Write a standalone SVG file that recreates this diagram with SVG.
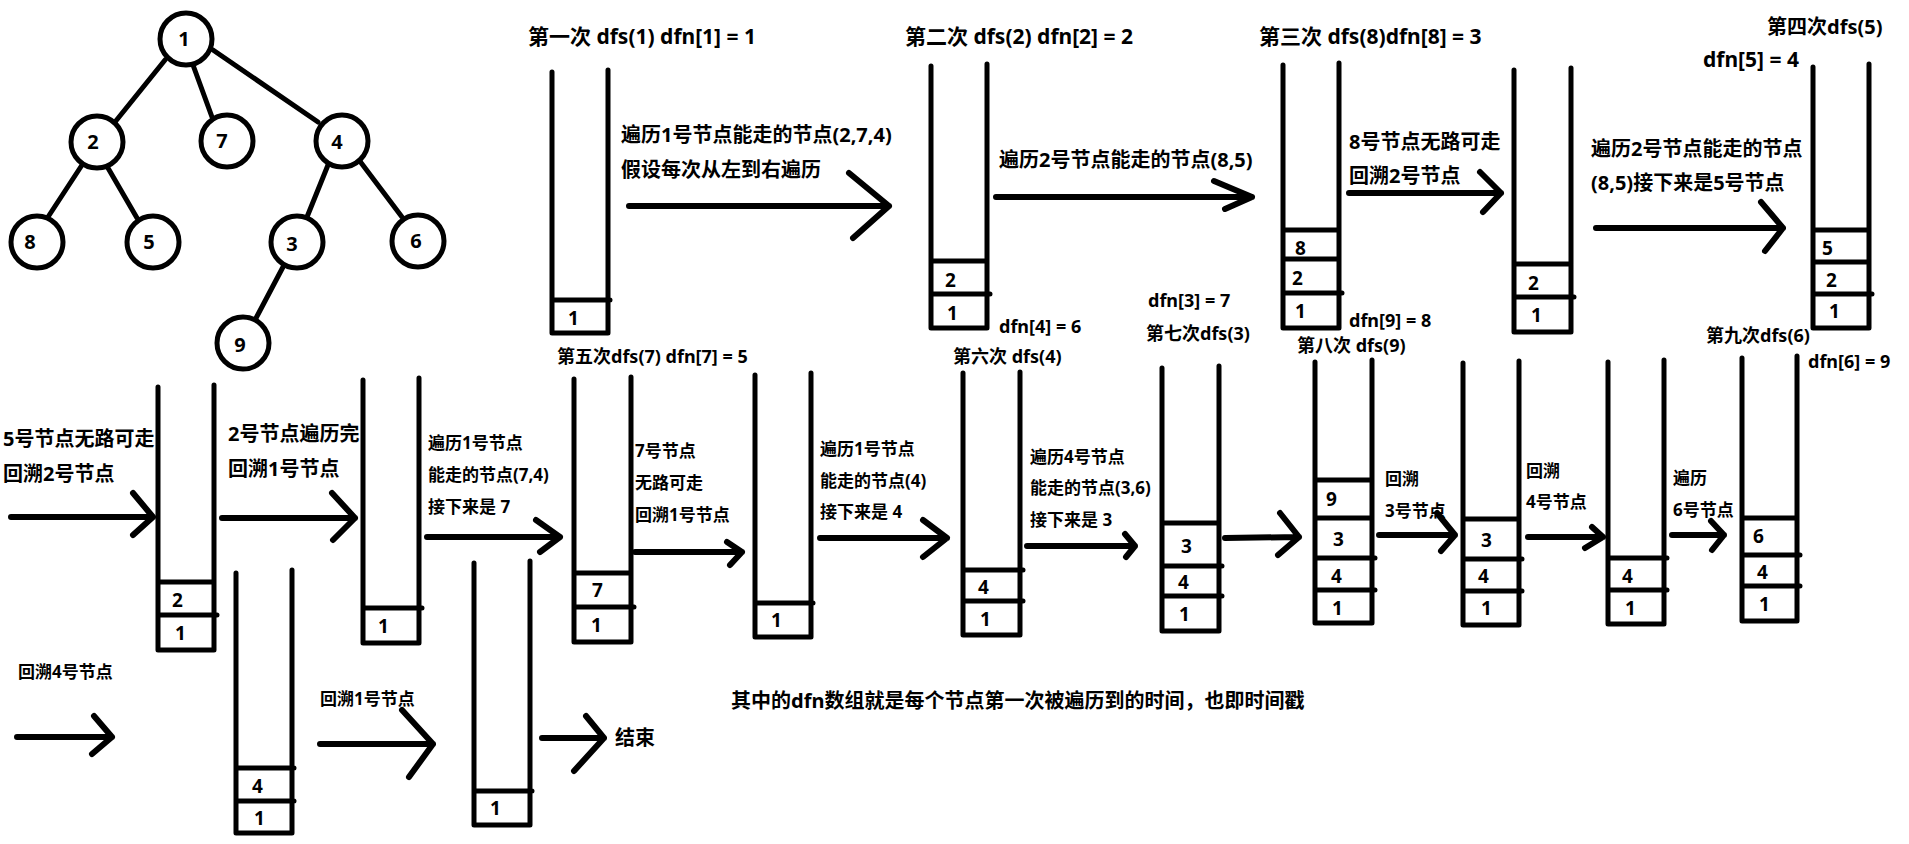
<svg xmlns="http://www.w3.org/2000/svg" width="1909" height="844" viewBox="0 0 1909 844">
<style>
.bg{fill:#fff}
.ln{fill:none;stroke:#000;stroke-width:5;stroke-linecap:round;stroke-linejoin:round}
.ar{fill:none;stroke:#000;stroke-width:6;stroke-linecap:round;stroke-linejoin:round}
.nd{fill:#fff;stroke:#000;stroke-width:5}
text{font-family:"Noto Sans","Noto Sans CJK SC",sans-serif;font-weight:bold;fill:#000}
.t21{font-size:21px}
.t20{font-size:20px}
.t18{font-size:18px}
.t17{font-size:17px}
.nl{font-size:20px;text-anchor:middle}
.sl{font-size:19px}
</style>
<rect class="bg" x="0" y="0" width="1909" height="844"/>

<!-- tree edges -->
<g id="tree-edges" class="ln">
<path d="M165 60L115 122M193 65L212 117M213 50L318 122M82 165L48 217M108 168L137 218M328 165L307 217M359 160L402 217M283 267L255 320"/>
</g>
<g id="n1"><circle class="nd" cx="186" cy="39" r="26"/><text class="nl" x="184" y="46">1</text></g>
<g id="n2"><circle class="nd" cx="97" cy="142" r="26"/><text class="nl" x="93" y="149">2</text></g>
<g id="n7"><circle class="nd" cx="227" cy="141" r="26"/><text class="nl" x="222" y="148">7</text></g>
<g id="n4"><circle class="nd" cx="342" cy="141" r="26"/><text class="nl" x="337" y="149">4</text></g>
<g id="n8"><circle class="nd" cx="37" cy="242" r="26"/><text class="nl" x="30" y="249">8</text></g>
<g id="n5"><circle class="nd" cx="153" cy="242" r="26"/><text class="nl" x="149" y="249">5</text></g>
<g id="n3"><circle class="nd" cx="297" cy="242" r="26"/><text class="nl" x="292" y="251">3</text></g>
<g id="n6"><circle class="nd" cx="418" cy="241" r="26"/><text class="nl" x="416" y="248">6</text></g>
<g id="n9"><circle class="nd" cx="243" cy="343" r="26"/><text class="nl" x="240" y="352">9</text></g>

<!-- stacks row 1 -->
<g id="s1"><path class="ln" d="M552 72V333H608V70M552 300H610"/><text class="sl" x="568" y="325">1</text></g>
<g id="s2"><path class="ln" d="M931 66V328H987V64M931 261H987M931 294H990"/><text class="sl" x="945" y="287">2</text><text class="sl" x="947" y="320">1</text></g>
<g id="s3"><path class="ln" d="M1283 65V328H1339V63M1283 230H1339M1283 259H1339M1283 293H1342"/><text class="sl" x="1295" y="255">8</text><text class="sl" x="1292" y="285">2</text><text class="sl" x="1295" y="318">1</text></g>
<g id="s4"><path class="ln" d="M1514 70V332H1571V68M1514 264H1571M1514 297H1574"/><text class="sl" x="1528" y="290">2</text><text class="sl" x="1531" y="322">1</text></g>
<g id="s5"><path class="ln" d="M1813 67V328H1869V64M1813 230H1869M1813 262H1869M1813 294H1872"/><text class="sl" x="1822" y="255">5</text><text class="sl" x="1826" y="287">2</text><text class="sl" x="1829" y="318">1</text></g>

<!-- stacks row 2 -->
<g id="sA"><path class="ln" d="M158 387V650H214V385M158 582H214M158 615H217"/><text class="sl" x="172" y="607">2</text><text class="sl" x="175" y="640">1</text></g>
<g id="sG"><path class="ln" d="M363 380V643H419V378M363 608H422"/><text class="sl" x="378" y="633">1</text></g>
<g id="sB"><path class="ln" d="M574 379V642H631V377M574 573H631M574 607H634"/><text class="sl" x="592" y="597">7</text><text class="sl" x="591" y="632">1</text></g>
<g id="sC"><path class="ln" d="M755 375V637H811V373M755 603H813"/><text class="sl" x="771" y="627">1</text></g>
<g id="sD"><path class="ln" d="M963 373V635H1020V372M963 570H1023M963 601H1023"/><text class="sl" x="978" y="594">4</text><text class="sl" x="980" y="626">1</text></g>
<g id="sE"><path class="ln" d="M1162 368V631H1219V366M1162 523H1219M1162 566H1222M1162 596H1222"/><text class="sl" x="1181" y="553">3</text><text class="sl" x="1178" y="589">4</text><text class="sl" x="1179" y="621">1</text></g>
<g id="sF"><path class="ln" d="M1315 362V623H1372V360M1315 480H1372M1315 518H1372M1315 558H1375M1315 590H1375"/><text class="sl" x="1326" y="506">9</text><text class="sl" x="1333" y="546">3</text><text class="sl" x="1331" y="583">4</text><text class="sl" x="1332" y="615">1</text></g>
<g id="sH"><path class="ln" d="M1463 363V625H1519V361M1463 519H1519M1463 559H1522M1463 591H1522"/><text class="sl" x="1481" y="547">3</text><text class="sl" x="1478" y="583">4</text><text class="sl" x="1481" y="615">1</text></g>
<g id="sI"><path class="ln" d="M1608 362V624H1664V360M1608 558H1667M1608 590H1667"/><text class="sl" x="1622" y="583">4</text><text class="sl" x="1625" y="615">1</text></g>
<g id="sJ"><path class="ln" d="M1742 358V621H1797V356M1742 518H1797M1742 555H1800M1742 586H1800"/><text class="sl" x="1753" y="543">6</text><text class="sl" x="1757" y="579">4</text><text class="sl" x="1759" y="611">1</text></g>

<!-- stacks row 3 -->
<g id="sK"><path class="ln" d="M236 573V833H292V570M236 768H294M236 801H294"/><text class="sl" x="252" y="793">4</text><text class="sl" x="254" y="825">1</text></g>
<g id="sL"><path class="ln" d="M474 563V825H530V561M474 791H532"/><text class="sl" x="490" y="815">1</text></g>

<!-- arrows -->
<g id="connectors" class="ar">
<path d="M629 206H889M849 173L889 206L853 238"/>
<path d="M996 197H1252M1214 181L1252 197L1225 209"/>
<path d="M1349 193H1501M1480 172L1501 193L1483 212"/>
<path d="M1596 228H1783M1761 202L1783 228L1765 251"/>
<path d="M11 517H153M133 493L153 517L133 535"/>
<path d="M222 518H355M332 493L355 518L333 540"/>
<path d="M427 537H560M536 520L560 537L540 552"/>
<path d="M635 552H742M727 542L742 552L730 565"/>
<path d="M820 538H947M923 520L947 538L923 557"/>
<path d="M1027 546H1135M1125 534L1135 546L1126 557"/>
<path d="M1225 538L1299 537M1280 513L1299 537L1278 555"/>
<path d="M1379 535H1455M1437 513L1455 535L1441 551"/>
<path d="M1528 537H1603M1592 527L1603 537L1585 548"/>
<path d="M1672 535H1724M1711 521L1724 535L1712 550"/>
<path d="M17 737H112M94 716L112 737L92 754"/>
<path d="M320 744H433M402 710L433 744L409 777"/>
<path d="M542 738H604M586 716L604 738L574 771"/>
</g>

<!-- labels -->
<g id="labels">
<text class="t21" x="528" y="44">第一次 dfs(1) dfn[1] = 1</text>
<text class="t21" x="905" y="44">第二次 dfs(2) dfn[2] = 2</text>
<text class="t21" x="1259" y="44">第三次 dfs(8)dfn[8] = 3</text>
<text class="t20" x="1767" y="34">第四次dfs(5)</text>
<text class="t21" x="1703" y="67">dfn[5] = 4</text>
<text class="t20" x="621" y="142">遍历1号节点能走的节点(2,7,4)</text>
<text class="t20" x="621" y="177">假设每次从左到右遍历</text>
<text class="t20" x="999" y="167">遍历2号节点能走的节点(8,5)</text>
<text class="t20" x="1349" y="149">8号节点无路可走</text>
<text class="t20" x="1349" y="183">回溯2号节点</text>
<text class="t20" x="1591" y="156">遍历2号节点能走的节点</text>
<text class="t20" x="1591" y="190">(8,5)接下来是5号节点</text>
<text class="t18" x="999" y="333">dfn[4] = 6</text>
<text class="t18" x="1148" y="307">dfn[3] = 7</text>
<text class="t18" x="1146" y="340">第七次dfs(3)</text>
<text class="t18" x="1349" y="327">dfn[9] = 8</text>
<text class="t18" x="1297" y="352">第八次 dfs(9)</text>
<text class="t18" x="1706" y="342">第九次dfs(6)</text>
<text class="t18" x="1808" y="368">dfn[6] = 9</text>
<text class="t18" x="557" y="363">第五次dfs(7) dfn[7] = 5</text>
<text class="t18" x="953" y="363">第六次 dfs(4)</text>
<text class="t20" x="3" y="446">5号节点无路可走</text>
<text class="t20" x="3" y="481">回溯2号节点</text>
<text class="t20" x="228" y="441">2号节点遍历完</text>
<text class="t20" x="228" y="476">回溯1号节点</text>
<text class="t17" x="428" y="449">遍历1号节点</text>
<text class="t17" x="428" y="481">能走的节点(7,4)</text>
<text class="t17" x="428" y="513">接下来是 7</text>
<text class="t17" x="635" y="457">7号节点</text>
<text class="t17" x="635" y="489">无路可走</text>
<text class="t17" x="635" y="521">回溯1号节点</text>
<text class="t17" x="820" y="455">遍历1号节点</text>
<text class="t17" x="820" y="487">能走的节点(4)</text>
<text class="t17" x="820" y="518">接下来是 4</text>
<text class="t17" x="1030" y="463">遍历4号节点</text>
<text class="t17" x="1030" y="494">能走的节点(3,6)</text>
<text class="t17" x="1030" y="526">接下来是 3</text>
<text class="t17" x="1385" y="485">回溯</text>
<text class="t17" x="1385" y="517">3号节点</text>
<text class="t17" x="1526" y="477">回溯</text>
<text class="t17" x="1526" y="508">4号节点</text>
<text class="t17" x="1673" y="484">遍历</text>
<text class="t17" x="1673" y="516">6号节点</text>
<text class="t17" x="18" y="678">回溯4号节点</text>
<text class="t17" x="320" y="705">回溯1号节点</text>
<text class="t20" x="615" y="745">结束</text>
<text class="t20" x="731" y="708">其中的dfn数组就是每个节点第一次被遍历到的时间，也即时间戳</text>
</g>
</svg>
